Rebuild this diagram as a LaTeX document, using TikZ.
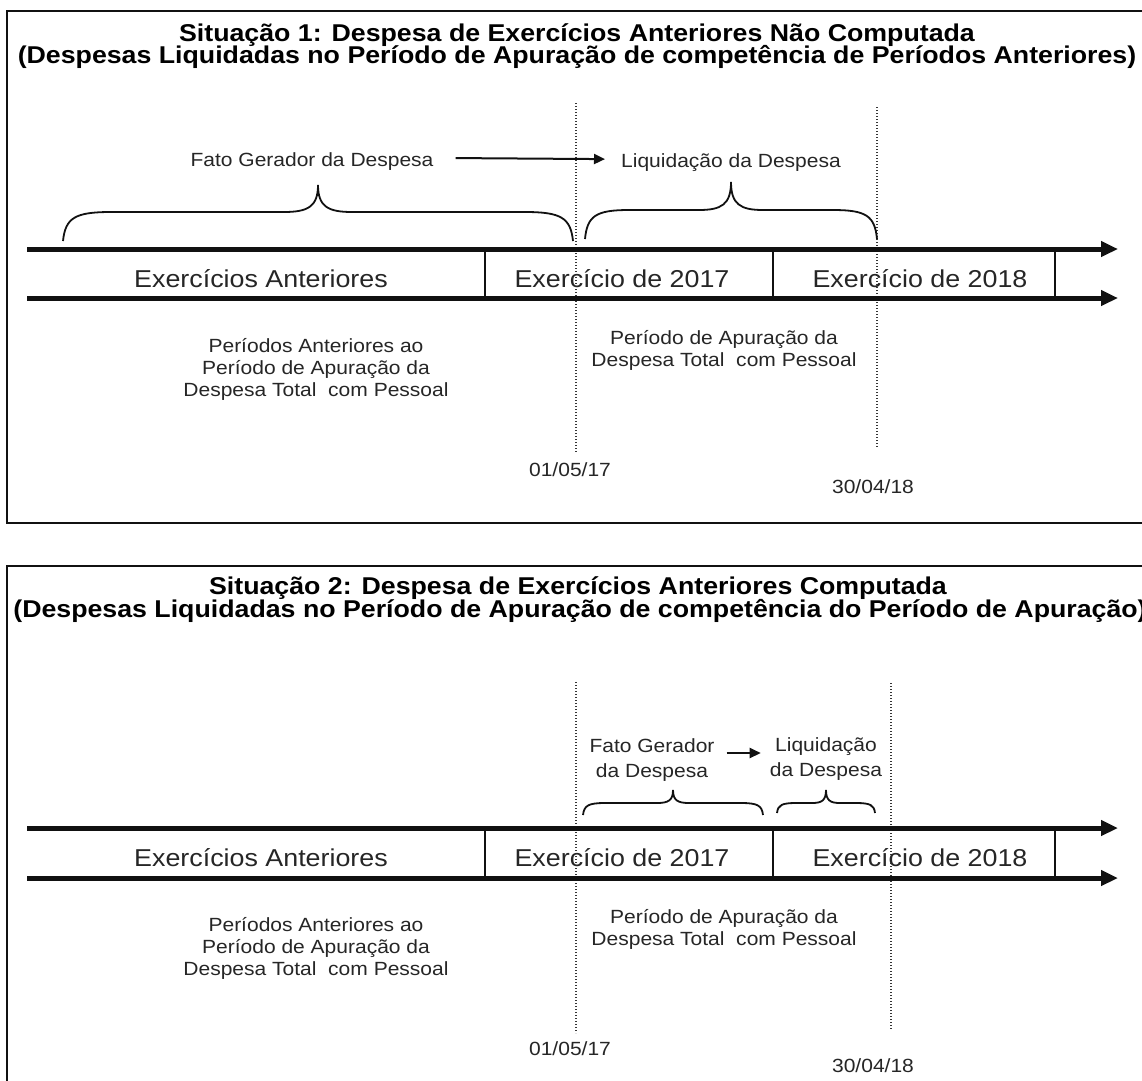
\documentclass[tikz,border=0pt]{standalone}
\usepackage{fontspec}
\setmainfont{Liberation Sans}[FakeStretch=1.1]
\usetikzlibrary{arrows.meta}
\definecolor{tx}{HTML}{262626}
\definecolor{ln}{HTML}{111111}
% brace: x1, x2, xm, ybottom, ymid, ytop, rEnd, rTip
\newcommand\mybrace[8]{%
  \draw[brc] (#1,#4) .. controls (#1+0.05*#7,#5+0.2*#4-0.2*#5) and (#1+0.25*#7,#5) .. (#1+#7,#5) -- (#3-#8,#5)
    .. controls (#3-0.3*#8,#5) and (#3,#5-0.2*#5+0.2*#6) .. (#3,#6)
    .. controls (#3,#5-0.2*#5+0.2*#6) and (#3+0.3*#8,#5) .. (#3+#8,#5)
    -- (#2-#7,#5) .. controls (#2-0.25*#7,#5) and (#2-0.05*#7,#5+0.2*#4-0.2*#5) .. (#2,#4);}
\begin{document}
\begin{tikzpicture}[x=1pt,y=-1pt,
  frame/.style={line width=2.5pt, draw=ln},
  tl/.style={line width=5pt, draw=ln, -{Triangle[length=17pt,width=15pt]}},
  divi/.style={line width=2pt, draw=ln},
  dotl/.style={line width=1.5pt, draw=ln!85, dash pattern=on 1.2pt off 1.8pt},
  brc/.style={line width=1.8pt, draw=ln},
  conn/.style={line width=2pt, draw=ln, -{Triangle[length=11pt,width=10pt]}},
  ttl/.style={inner sep=0pt, anchor=base, font=\bfseries\fontsize{24.3}{22}\selectfont},
  big/.style={inner sep=0pt, anchor=base, text=tx, font=\fontsize{24.4}{26}\selectfont},
  sm/.style={inner sep=0pt, text=tx, align=center, font=\fontsize{19.1}{22}\selectfont},
  sm2/.style={sm, font=\fontsize{19.1}{24.5}\selectfont}]
\useasboundingbox (0,0) rectangle (1142,1080);
\clip (0,0) rectangle (1142,1080);
\fill[white] (0,0) rectangle (1142,1080);

% ================= Situation 1 =================
\draw[frame] (7,11) rectangle (1160,523);
\node[ttl] (t1a) at (577,41) {Situação 1: Despesa de Exercícios Anteriores Não Computada};
\node[ttl] (t1b) at (577,63.5) {(Despesas Liquidadas no Período de Apuração de competência de Períodos Anteriores)};

\draw[dotl] (576,103) -- (576,453);
\draw[dotl] (877,107) -- (877,447);

\node[sm, anchor=base] (fg1) at (312,166) {Fato Gerador da Despesa};
\node[sm, anchor=base] (lq1) at (731,167) {Liquidação da Despesa};
\draw[conn] ([shift={(22pt,3pt)}]fg1.east) -- ([shift={(-16pt,3pt)}]lq1.west);

\mybrace{63}{573}{318}{241}{212}{185}{48}{34}
\mybrace{585}{877}{731}{239}{210}{182}{44}{32}

\draw[tl] (27,249) -- (1118,249);
\draw[tl] (27,298) -- (1118,298);
\draw[divi] (485,249) -- (485,298);
\draw[divi] (773,249) -- (773,298);
\draw[divi] (1055,249) -- (1055,298);
\node[big] (ea1) at (261,287) {Exercícios Anteriores};
\node[big] (e17a) at (622,287) {Exercício de 2017};
\node[big] (e18a) at (920,287) {Exercício de 2018};

\node[sm] (pa1) at (316,369) {Períodos Anteriores ao\\Período de Apuração da\\Despesa Total\ \ com Pessoal};
\node[sm] (pp1) at (724,350) {Período de Apuração da\\Despesa Total\ \ com Pessoal};
\node[sm] (d1a) at (570,470) {01/05/17};
\node[sm] (d1b) at (873,487) {30/04/18};

% ================= Situation 2 =================
\draw[frame] (7,566) rectangle (1160,1100);
\node[ttl] (t2a) at (578,594) {Situação 2: Despesa de Exercícios Anteriores Computada};
\node[ttl] (t2b) at (580,617) {(Despesas Liquidadas no Período de Apuração de competência do Período de Apuração)};

\draw[dotl] (576,682) -- (576,1033);
\draw[dotl] (891,683) -- (891,1030);

\node[sm2] (fg2) at (652,760) {Fato Gerador\\da Despesa};
\node[sm2] (lq2) at (826,759) {Liquidação\\da Despesa};
\draw[conn] ([shift={(12pt,7pt)}]fg2.east) -- ([shift={(-9pt,6pt)}]lq2.west);

\mybrace{583}{763}{673}{815}{803}{790}{22}{16}
\mybrace{777}{875}{826}{813}{803}{790}{19}{14}

\draw[tl] (27,828) -- (1118,828);
\draw[tl] (27,878) -- (1118,878);
\draw[divi] (485,828) -- (485,878);
\draw[divi] (773,828) -- (773,878);
\draw[divi] (1055,828) -- (1055,878);
\node[big] (ea2) at (261,866) {Exercícios Anteriores};
\node[big] (e17b) at (622,866) {Exercício de 2017};
\node[big] (e18b) at (920,866) {Exercício de 2018};

\node[sm] (pa2) at (316,948) {Períodos Anteriores ao\\Período de Apuração da\\Despesa Total\ \ com Pessoal};
\node[sm] (pp2) at (724,929) {Período de Apuração da\\Despesa Total\ \ com Pessoal};
\node[sm] (d2a) at (570,1049) {01/05/17};
\node[sm] (d2b) at (873,1066) {30/04/18};
\end{tikzpicture}
\end{document}
